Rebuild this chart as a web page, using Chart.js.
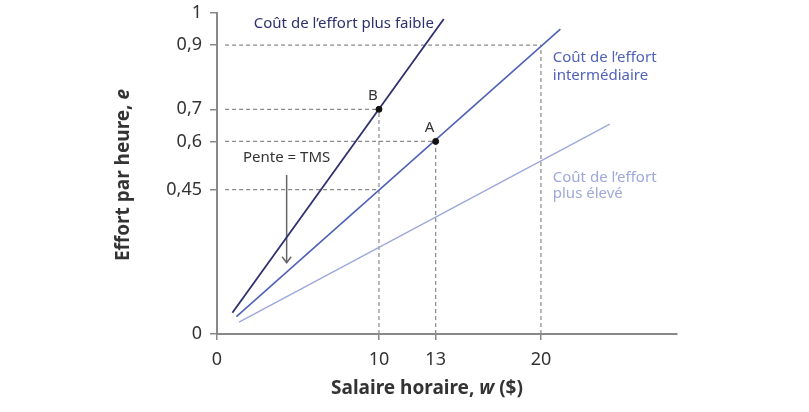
<!DOCTYPE html>
<html lang="fr">
<head>
<meta charset="utf-8">
<script src="https://cdn.jsdelivr.net/npm/chart.js@4/dist/chart.umd.min.js"></script>
<style>
  html, body { margin: 0; background: #fff; }
  #wrap { width: 809px; height: 412px; position: relative; }
</style>
</head>
<body>
<div id="wrap"><canvas id="chart"></canvas></div>
<script>
// axis ticks
const xTickValues = [0, 10, 13.5, 20];
const xTickLabels = ['0', '10', '13', '20'];
const yTickValues = [0, 0.45, 0.6, 0.7, 0.9, 1];
const yTickLabels = ['0', '0,45', '0,6', '0,7', '0,9', '1'];

// effort curves (start and end points)
const lowCost = [{ x: 0.95, y: 0.066 }, { x: 14.0, y: 0.981 }];
const midCost = [{ x: 1.2, y: 0.054 }, { x: 21.2, y: 0.95 }];
const highCost = [{ x: 1.36, y: 0.037 }, { x: 24.25, y: 0.654 }];

// points A and B
const pointNames = ['B', 'A'];
const pointValues = [{ x: 10, y: 0.7 }, { x: 13.5, y: 0.6 }];

// dashed guide lines
const guides = [
  [{ x: 0.5, y: 0.9 }, { x: 20, y: 0.9 }],
  [{ x: 0.5, y: 0.7 }, { x: 10, y: 0.7 }],
  [{ x: 0.5, y: 0.6 }, { x: 13.5, y: 0.6 }],
  [{ x: 0.5, y: 0.45 }, { x: 10, y: 0.45 }],
  [{ x: 10, y: 0 }, { x: 10, y: 0.7 }],
  [{ x: 13.5, y: 0 }, { x: 13.5, y: 0.6 }],
  [{ x: 20, y: 0 }, { x: 20, y: 0.9 }],
];

// "Pente = TMS" arrow
const slopeArrow = [{ x: 4.3, y: 0.495 }, { x: 4.3, y: 0.222 }];

const FONT = '"Noto Sans", sans-serif';
const NAVY = '#2c316e';
const MID = '#5062b8';
const LIGHT = '#9ea8da';
const GREY = '#333333';

const notes = [
  { text: 'Coût de l’effort plus faible', x: 2.27, y: 0.966, color: NAVY, align: 'left' },
  { text: 'Coût de l’effort', x: 20.73, y: 0.862, color: MID, align: 'left' },
  { text: 'intermédiaire', x: 20.73, y: 0.805, color: MID, align: 'left' },
  { text: 'Coût de l’effort', x: 20.73, y: 0.487, color: LIGHT, align: 'left' },
  { text: 'plus élevé', x: 20.73, y: 0.438, color: LIGHT, align: 'left' },
  { text: 'Pente = TMS', x: 4.3, y: 0.548, color: GREY, align: 'center' },
];

function drawRich(ctx, parts, cx, cy) {
  let total = 0;
  parts.forEach(p => {
    ctx.font = p[1] + ' 19px ' + FONT;
    total += ctx.measureText(p[0]).width;
  });
  let x = cx - total / 2;
  parts.forEach(p => {
    ctx.font = p[1] + ' 19px ' + FONT;
    ctx.fillText(p[0], x, cy);
    x += ctx.measureText(p[0]).width;
  });
}

const labelsPlugin = {
  id: 'labels',
  afterDatasetsDraw(chart) {
    const { ctx, scales: { x, y } } = chart;
    ctx.save();
    ctx.textBaseline = 'middle';

    notes.forEach(n => {
      ctx.font = '15px ' + FONT;
      ctx.fillStyle = n.color;
      ctx.textAlign = n.align;
      ctx.fillText(n.text, x.getPixelForValue(n.x), y.getPixelForValue(n.y));
    });

    // point names
    ctx.font = '15px ' + FONT;
    ctx.fillStyle = GREY;
    ctx.textAlign = 'center';
    pointValues.forEach((p, i) => {
      ctx.fillText(pointNames[i], x.getPixelForValue(p.x) - 6, y.getPixelForValue(p.y) - 14);
    });

    // arrow head
    const tip = slopeArrow[slopeArrow.length - 1];
    const tx = x.getPixelForValue(tip.x);
    const ty = y.getPixelForValue(tip.y);
    ctx.strokeStyle = '#666';
    ctx.lineWidth = 1.5;
    ctx.beginPath();
    ctx.moveTo(tx - 4.5, ty - 6);
    ctx.lineTo(tx, ty);
    ctx.lineTo(tx + 4.5, ty - 6);
    ctx.stroke();

    // axis titles
    ctx.fillStyle = GREY;
    ctx.textAlign = 'left';
    drawRich(ctx, [['Salaire horaire, ', 'bold'], ['w', 'italic bold'], [' ($)', 'bold']], 427, 389);
    ctx.translate(124, 175);
    ctx.rotate(-Math.PI / 2);
    drawRich(ctx, [['Effort par heure, ', 'bold'], ['e', 'italic bold']], 0, 0);
    ctx.restore();
  },
};

const guideSets = guides.map(g => ({
  data: g,
  showLine: true,
  borderColor: '#8a8a8a',
  borderWidth: 1.2,
  borderDash: [4, 3],
  pointRadius: 0,
  order: 3,
}));

const curve = (data, color, width) => ({
  data: data,
  showLine: true,
  borderColor: color,
  borderWidth: width,
  pointRadius: 0,
  order: 1,
});

const config = {
  type: 'scatter',
  data: {
    datasets: [
      {
        data: pointValues,
        pointRadius: 3,
        pointBackgroundColor: '#111',
        pointBorderColor: '#111',
        order: 0,
      },
      curve(lowCost, NAVY, 1.8),
      curve(midCost, MID, 1.6),
      curve(highCost, LIGHT, 1.4),
      {
        data: slopeArrow,
        showLine: true,
        borderColor: '#666',
        borderWidth: 1.5,
        pointRadius: 0,
        order: 2,
      },
      ...guideSets,
    ],
  },
  options: {
    responsive: true,
    maintainAspectRatio: false,
    animation: false,
    layout: {
      padding: { top: 13, right: 132, left: 0, bottom: 0 },
    },
    plugins: {
      legend: { display: false },
      tooltip: { enabled: false },
    },
    scales: {
      x: {
        type: 'linear',
        min: 0,
        max: 28.4,
        afterBuildTicks: s => { s.ticks = xTickValues.map(v => ({ value: v })); },
        afterFit: s => { s.height = 78; s.paddingLeft = 0; s.paddingRight = 0; },
        ticks: {
          callback: (v, i) => xTickLabels[i],
          autoSkip: false,
          maxRotation: 0,
          color: GREY,
          padding: 9,
          font: { family: FONT, size: 18 },
        },
        grid: {
          drawOnChartArea: false,
          tickLength: 6,
          color: '#888',
          lineWidth: 1.5,
        },
        border: { color: '#888', width: 2 },
      },
      y: {
        type: 'linear',
        min: 0,
        max: 1,
        afterBuildTicks: s => { s.ticks = yTickValues.map(v => ({ value: v })); },
        afterFit: s => { s.width = 217; s.paddingTop = 0; s.paddingBottom = 0; },
        ticks: {
          callback: (v, i) => yTickLabels[i],
          autoSkip: false,
          color: GREY,
          padding: 8,
          font: { family: FONT, size: 18 },
        },
        grid: {
          drawOnChartArea: false,
          tickLength: 7,
          color: '#888',
          lineWidth: 1.5,
        },
        border: { color: '#888', width: 2 },
      },
    },
  },
  plugins: [labelsPlugin],
};

new Chart(document.getElementById('chart'), config);
</script>
</body>
</html>
